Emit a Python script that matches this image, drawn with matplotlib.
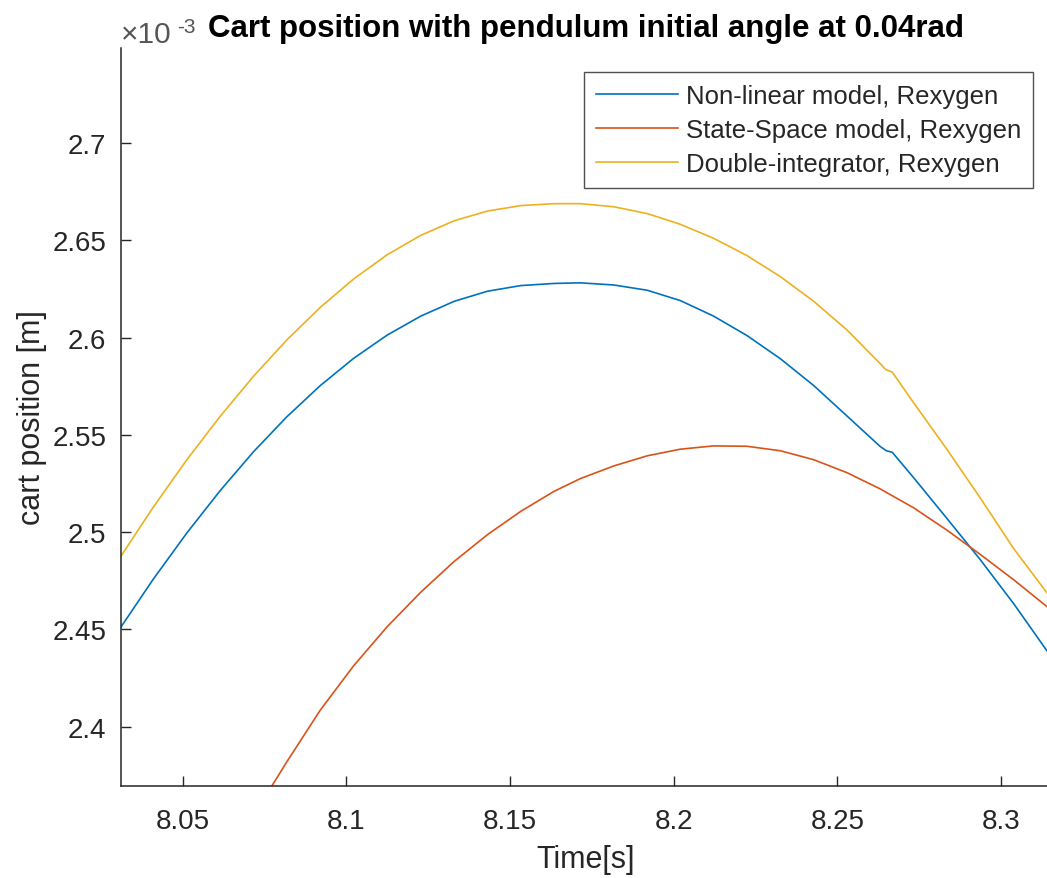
import numpy as np
import matplotlib
matplotlib.use('Agg')
import matplotlib.pyplot as plt
from matplotlib.ticker import FuncFormatter

plt.rcParams['font.family'] = ['Liberation Sans', 'DejaVu Sans']

# cart position (x 1e-3 m) vs time, three simulation models
t_nonlin = [8.0308, 8.041, 8.0512, 8.0614, 8.0716, 8.0818, 8.092, 8.1022, 8.1124, 8.1227,
            8.1329, 8.1431, 8.1533, 8.1635, 8.1715, 8.1817, 8.1919, 8.202, 8.2122, 8.2224,
            8.2326, 8.2428, 8.253, 8.2631, 8.265, 8.2668, 8.2733, 8.2835, 8.2937, 8.3039, 8.3153]
x_nonlin = [2.4505, 2.4759, 2.4995, 2.5213, 2.5413, 2.5593, 2.5753, 2.5893, 2.6012, 2.6110,
            2.6186, 2.6238, 2.6267, 2.6278, 2.6281, 2.6270, 2.6243, 2.6190, 2.6110, 2.6010,
            2.5891, 2.5753, 2.5596, 2.5440, 2.5418, 2.5410, 2.5280, 2.5070, 2.4858, 2.4632, 2.4360]

t_ss = [8.0772, 8.0818, 8.092, 8.1022, 8.1124, 8.1227, 8.1329, 8.1431, 8.1533, 8.1635,
        8.1715, 8.1817, 8.1919, 8.202, 8.2122, 8.2224, 8.2326, 8.2428, 8.253, 8.2631,
        8.2733, 8.2835, 8.2937, 8.3039, 8.3153]
x_ss = [2.3695, 2.3820, 2.4085, 2.4313, 2.4513, 2.4691, 2.4849, 2.4987, 2.5107, 2.5210,
        2.5275, 2.5340, 2.5392, 2.5426, 2.5443, 2.5441, 2.5418, 2.5372, 2.5305, 2.5222,
        2.5125, 2.5010, 2.4885, 2.4755, 2.4600]

t_dint = [8.0308, 8.041, 8.0512, 8.0614, 8.0716, 8.0818, 8.092, 8.1022, 8.1124, 8.1227,
          8.1329, 8.1431, 8.1533, 8.1635, 8.1715, 8.1817, 8.1919, 8.202, 8.2122, 8.2224,
          8.2326, 8.2428, 8.253, 8.2631, 8.2648, 8.2668, 8.2733, 8.2835, 8.2937, 8.3039, 8.3153]
x_dint = [2.4869, 2.5129, 2.5371, 2.5595, 2.5801, 2.5988, 2.6155, 2.6301, 2.6425, 2.6525,
          2.6600, 2.6650, 2.6678, 2.6688, 2.6688, 2.6672, 2.6637, 2.6582, 2.6510, 2.6421,
          2.6313, 2.6186, 2.6038, 2.5866, 2.5835, 2.5822, 2.5665, 2.5425, 2.5175, 2.4915, 2.4660]

labels = ['Non-linear model, Rexygen', 'State-Space model, Rexygen', 'Double-integrator, Rexygen']
colors = ['#0072BD', '#D95319', '#EDB120']
xticks = [8.05, 8.1, 8.15, 8.2, 8.25, 8.3]
yticks = [2.4, 2.45, 2.5, 2.55, 2.6, 2.65, 2.7]

axc = '#262626'
fig = plt.figure(figsize=(10.47, 8.79), dpi=100)
ax = fig.add_axes([121 / 1047, 1 - 787 / 879, 930 / 1047, 738 / 879])

ax.plot(t_nonlin, x_nonlin, color=colors[0], lw=1.2, label=labels[0])
ax.plot(t_ss, x_ss, color=colors[1], lw=1.2, label=labels[1])
ax.plot(t_dint, x_dint, color=colors[2], lw=1.2, label=labels[2])

ax.set_xlim(8.0311, 8.3153)
ax.set_ylim(2.3695, 2.7488)
ax.set_xticks(xticks)
ax.set_yticks(yticks)
fmt = FuncFormatter(lambda v, p: '%g' % round(v, 3))
ax.xaxis.set_major_formatter(fmt)
ax.yaxis.set_major_formatter(fmt)
ax.tick_params(direction='in', length=7, width=1, colors=axc, labelsize=20)
ax.tick_params(axis='x', pad=16)
ax.tick_params(axis='y', pad=10.5)
for s in ['top', 'right']:
    ax.spines[s].set_visible(False)
for s in ['left', 'bottom']:
    ax.spines[s].set_color(axc)
    ax.spines[s].set_linewidth(1.1)

ax.set_xlabel('Time[s]', fontsize=22, color=axc, va='baseline')
ax.xaxis.set_label_coords(0.5, -(868 - 787) / 738)
ax.set_ylabel('cart position [m]', fontsize=22, color=axc, va='center')
ax.yaxis.set_label_coords((32 - 121) / 930, 0.5)

ax.text(0.5, (787 - 37) / 738, 'Cart position with pendulum initial angle at 0.04rad',
        transform=ax.transAxes, fontsize=22.5, fontweight='bold', color='black',
        ha='center', va='baseline')
# axis exponent, drawn MATLAB-style above the y axis
ax.text(0.0, (787 - 43) / 738, '\u00d710', transform=ax.transAxes, fontsize=21.5,
        color='#555555', ha='left', va='baseline')
ax.text((177 - 121) / 930, (787 - 33) / 738, '-3', transform=ax.transAxes, fontsize=15,
        color='#555555', ha='left', va='baseline')

leg = ax.legend(loc='upper right', bbox_to_anchor=((1033 - 121) / 930, (787 - 73) / 738),
                fontsize=18.5, frameon=True, fancybox=False, handlelength=3.2,
                handletextpad=0.31, borderpad=0.45, labelspacing=0.4, borderaxespad=0)
leg.get_frame().set_edgecolor(axc)
leg.get_frame().set_linewidth(1.0)
for txt in leg.get_texts():
    txt.set_color(axc)

fig.savefig('out.png', dpi=100)
